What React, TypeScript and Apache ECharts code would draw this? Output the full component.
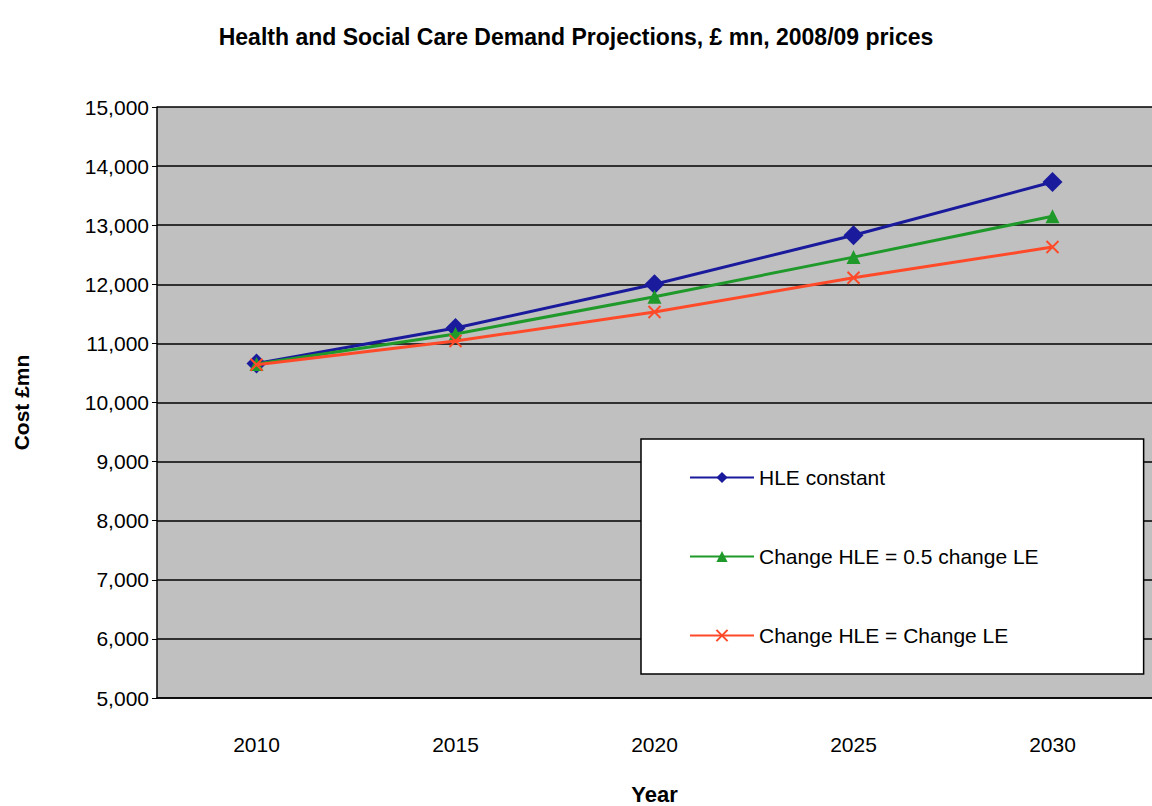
import React, { useEffect, useRef } from "react";
import * as echarts from "echarts";

const years = ["2010", "2015", "2020", "2025", "2030"];
const hleConstant = [10660, 11260, 12000, 12830, 13730];
const halfChange = [10650, 11160, 11790, 12460, 13150];
const fullChange = [10640, 11040, 11530, 12110, 12630];

const App: React.FC = () => {
  const chartRef = useRef<HTMLDivElement>(null);

  useEffect(() => {
    document.body.style.margin = "0";
    if (!chartRef.current) return;
    const chart = echarts.init(chartRef.current, undefined, { renderer: "svg" });
    const font = "Liberation Sans, Arial, sans-serif";
    chart.setOption({
      animation: false,
      textStyle: { fontFamily: font },
      title: {
        text: "Health and Social Care Demand Projections, £ mn, 2008/09 prices",
        left: "center",
        top: 20,
        textStyle: { fontSize: 23, fontWeight: "bold", color: "#000", fontFamily: font },
      },
      grid: { left: 157, right: 0, top: 107, bottom: 108, backgroundColor: "#c0c0c0", show: true, borderWidth: 0, outerBoundsMode: "none" },
      legend: {
        orient: "vertical",
        left: 641,
        top: 439,
        padding: [28, 105, 28, 48],
        itemGap: 58,
        itemWidth: 64,
        itemHeight: 14,
        backgroundColor: "#fff",
        borderColor: "#000",
        borderWidth: 1.5,
        textStyle: { fontSize: 21, color: "#000", fontFamily: font },
        data: ["HLE constant", "Change HLE = 0.5 change LE", "Change HLE = Change LE"],
      },
      xAxis: {
        type: "category",
        data: years,
        boundaryGap: true,
        name: "Year",
        nameLocation: "middle",
        nameGap: 85,
        nameTextStyle: { fontSize: 22, fontWeight: "bold", color: "#000" },
        axisLine: { lineStyle: { color: "#000", width: 1.5 } },
        axisTick: { lineStyle: { color: "#000" }, length: 6 },
        axisLabel: { fontSize: 21, color: "#000", margin: 36 },
      },
      yAxis: {
        type: "value",
        min: 5000,
        max: 15000,
        interval: 1000,
        name: "Cost £mn",
        nameLocation: "middle",
        nameGap: 125,
        nameTextStyle: { fontSize: 21, fontWeight: "bold", color: "#000" },
        axisLine: { show: true, lineStyle: { color: "#000", width: 1.5 } },
        axisTick: { show: true, lineStyle: { color: "#000" } },
        axisLabel: {
          fontSize: 21,
          color: "#000",
          formatter: (v: number) => v.toLocaleString("en-US"),
        },
        splitLine: { lineStyle: { color: "#000", width: 1.5 } },
      },
      series: [
        {
          name: "HLE constant",
          type: "line",
          data: hleConstant,
          symbol: "diamond",
          symbolSize: 20,
          lineStyle: { color: "#1a1a9c", width: 3 },
          itemStyle: { color: "#1a1a9c" },
          z: 3,
        },
        {
          name: "Change HLE = 0.5 change LE",
          type: "line",
          data: halfChange,
          symbol: "triangle",
          symbolSize: 14,
          lineStyle: { color: "#1f9a2a", width: 3 },
          itemStyle: { color: "#1f9a2a" },
          z: 4,
        },
        {
          name: "Change HLE = Change LE",
          type: "line",
          data: fullChange,
          symbol: "path://M0,0L10,10M10,0L0,10",
          symbolSize: 12,
          lineStyle: { color: "#ff4a2a", width: 3 },
          itemStyle: { color: "#ff4a2a", borderColor: "#ff4a2a", borderWidth: 2 },
          z: 5,
        },
      ],
    });
    return () => chart.dispose();
  }, []);

  return <div ref={chartRef} style={{ width: 1152, height: 806 }} />;
};

export default App;
